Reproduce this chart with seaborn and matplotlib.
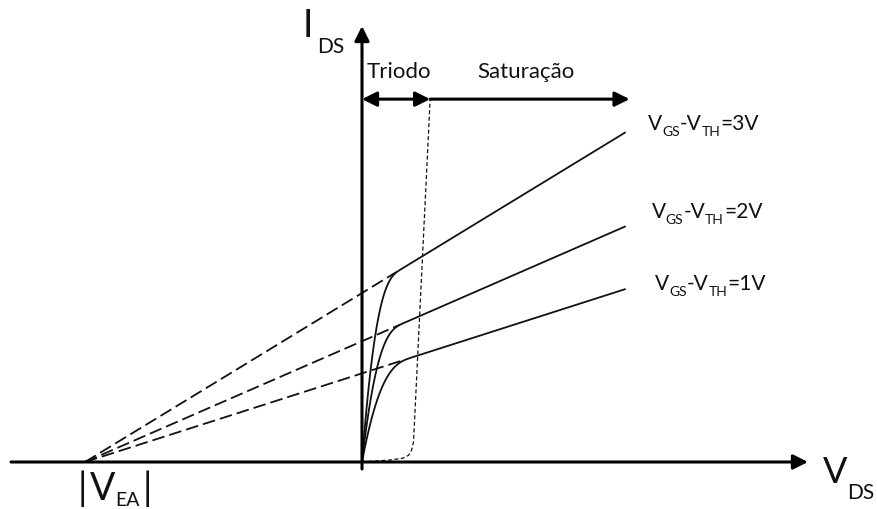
import numpy as np
import pandas as pd
import matplotlib
matplotlib.use("Agg")
import matplotlib.pyplot as plt
import seaborn as sns

# ---- MOSFET output characteristics with channel-length modulation ----
V_OV = [1, 2, 3]                    # V_GS - V_TH of each curve (V)
I_SAT0 = [1.60, 2.18, 3.05]         # saturation current extrapolated to V_DS = 0
V_KNEE = [0.90, 0.75, 0.70]         # where the triode curve reaches the saturation line
V_DASH_END = [0.75, 0.68, 0.63]     # where the extrapolation meets the solid curve
V_EA = 5.0                          # |V_EA|, common intercept on the V_DS axis
V_DS_MAX = 4.75                     # last V_DS drawn for the curves

# triode / saturation boundary (V_DS, I_DS)
BOUNDARY_V = [0.0, 0.50, 0.74, 0.84, 0.89, 0.93, 1.23]
BOUNDARY_I = [0.0, 0.035, 0.07, 0.12, 0.20, 0.36, 6.55]

# region arrows
REGION_Y = 6.55
TRIODE_END = 1.23
SAT_END = 4.83

LABELS = ["3V", "2V", "1V"]
INK = "#111111"

sns.set_theme(style="white")
plt.rcParams["font.family"] = ["Lato", "DejaVu Sans"]

fig = plt.figure(figsize=(8.77, 5.10), dpi=100)
ax = fig.add_axes([0, 0, 1, 1])
PX = 55.4
ax.set_xlim(-362 / PX, 515 / PX)
ax.set_ylim(-47 / PX, 463 / PX)
ax.axis("off")

# solid curves: smooth triode rise joined to the saturation line
rows = []
for vov, i0, vk in zip(V_OV, I_SAT0, V_KNEE):
    v = np.concatenate([np.linspace(0, vk, 100), np.linspace(vk, V_DS_MAX, 40)[1:]])
    r = np.clip(v / vk, 0, 1)
    i = i0 * (1 + v / V_EA) * (1 - (1 - r) ** 3)
    rows.append(pd.DataFrame({"vds": v, "ids": i, "curve": vov}))
solid = pd.concat(rows, ignore_index=True)
sns.lineplot(data=solid, x="vds", y="ids", units="curve", estimator=None,
             sort=False, color=INK, lw=1.3, ax=ax, legend=False)

# dashed extrapolation back to -|V_EA|
rows = []
for vov, i0, ve in zip(V_OV, I_SAT0, V_DASH_END):
    v = np.array([-V_EA, ve])
    rows.append(pd.DataFrame({"vds": v, "ids": i0 * (1 + v / V_EA), "curve": vov}))
dashed = pd.concat(rows, ignore_index=True)
sns.lineplot(data=dashed, x="vds", y="ids", units="curve", estimator=None,
             sort=False, color=INK, lw=1.3, linestyle=(0, (7.0, 2.8)),
             ax=ax, legend=False)

# boundary between the regions
bnd = pd.DataFrame({"vds": BOUNDARY_V, "ids": BOUNDARY_I})
sns.lineplot(data=bnd, x="vds", y="ids", estimator=None, sort=False,
             color=INK, lw=0.9, linestyle=(0, (3.2, 2.0)), ax=ax)

# axes with arrow heads
arrow = dict(arrowstyle="-|>", lw=2.2, color="black", mutation_scale=22,
             shrinkA=0, shrinkB=0)
ax.annotate("", xy=(446 / PX, 0), xytext=(-351 / PX, 0), arrowprops=arrow)
ax.annotate("", xy=(0, 436 / PX), xytext=(0, -7 / PX), arrowprops=arrow)

# region arrows
ax.annotate("", xy=(TRIODE_END, REGION_Y), xytext=(0, REGION_Y),
            arrowprops=dict(arrow, arrowstyle="<|-|>"))
ax.annotate("", xy=(SAT_END, REGION_Y), xytext=(TRIODE_END, REGION_Y),
            arrowprops=arrow)


def label(x, y, runs):
    """Write text runs side by side; each run is (text, size, dx, dy)."""
    first = prev = None
    for text, size, dx, dy in runs:
        if first is None:
            t = ax.text(x, y, text, fontsize=size, color=INK,
                        ha="left", va="baseline")
            first = t
        else:
            t = ax.annotate(text, xy=(1, 0), xycoords=(prev, first),
                            xytext=(dx, dy), textcoords="offset points",
                            fontsize=size, color=INK, ha="left", va="bottom")
        prev = t


ax.text(0.09, 6.95, "Triodo", fontsize=16, color=INK, ha="left", va="baseline")
ax.text(2.09, 6.95, "Saturação", fontsize=16, color=INK, ha="left", va="baseline")

label(-1.065, 7.69, [("I", 27, 0, 0), ("DS", 15, 3, -9.5)])
label(8.32, -0.36, [("V", 26, 0, 0), ("DS", 15, 0, -10)])
label(-5.13, -0.67, [("|", 27, 0, 0), ("V", 27, 2, 0), ("EA", 14, 0, -1.5),
                     ("|", 27, 2, 0)])

for x0, y0, txt in zip([5.16, 5.23, 5.29], [6.01, 4.42, 3.12], LABELS):
    label(x0, y0, [("V", 15, 0, 0), ("GS", 10, 0, -2.5), ("-V", 15, 0, 0),
                   ("TH", 10, 0, -2.5), ("=" + txt, 15, 0, 0)])

fig.savefig("out.png", dpi=100, facecolor="white")
